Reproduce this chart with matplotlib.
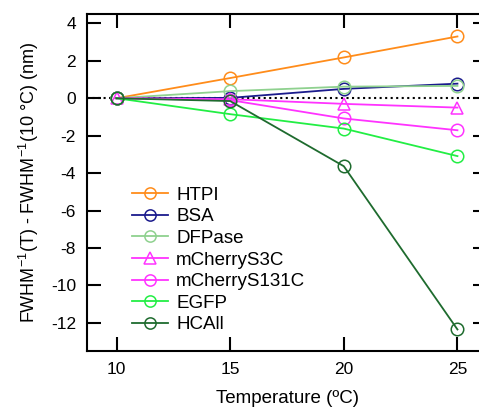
import matplotlib
matplotlib.use('Agg')
import matplotlib.pyplot as plt

plt.rcParams['font.family'] = ['Liberation Sans', 'DejaVu Sans']
plt.rcParams['mathtext.default'] = 'regular'
plt.rcParams['axes.unicode_minus'] = False

temps = [10, 15, 20, 25]
names = ['HTPI', 'BSA', 'DFPase', 'mCherryS3C', 'mCherryS131C', 'EGFP', 'HCAll']
values = {
    'HTPI': [0, 1.08, 2.18, 3.3],
    'BSA': [0, 0.02, 0.5, 0.78],
    'DFPase': [0, 0.38, 0.62, 0.66],
    'mCherryS3C': [0, -0.05, -0.3, -0.5],
    'mCherryS131C': [0, -0.1, -1.08, -1.71],
    'EGFP': [0, -0.85, -1.62, -3.09],
    'HCAll': [0, -0.15, -3.63, -12.35],
}
colors = ['#ff8c1a', '#1a1a8c', '#8fd18f', '#ff33ff', '#ff33ff', '#22ee44', '#1e6b2e']
markers = ['o', 'o', 'o', '^', 'o', 'o', 'o']

fig = plt.figure(figsize=(4.79, 4.09), dpi=100)
ax = fig.add_axes([87 / 479, 58 / 409, 400 / 479, 337 / 409])

ax.axhline(0, color='k', ls=':', lw=1.5, zorder=1)
for name, c, m in zip(names, colors, markers):
    ax.plot(temps, values[name], color=c, marker=m, markersize=9, mfc='none',
            mec=c, mew=1.1, lw=1.3, label=name, zorder=2)

ax.set_xlim(8.7, 26.3)
ax.set_ylim(-13.5, 4.5)
ax.set_xticks([10, 15, 20, 25])
ax.set_yticks(range(-12, 5, 2))
ax.tick_params(direction='in', length=10, width=1.5, labelsize=12.5,
               top=True, right=True, pad=8)
for s in ax.spines.values():
    s.set_linewidth(1.5)

ax.set_xlabel('Temperature (ºC)', fontsize=13.5, labelpad=9)
ax.set_ylabel('FWHM$^{-1}$(T) - FWHM$^{-1}$(10 °C) (nm)', fontsize=13, labelpad=7)

ax.legend(loc='center left', bbox_to_anchor=(0.113, 0.27), frameon=False,
          fontsize=13.5, handlelength=1.9, handletextpad=0.45, markerscale=0.9,
          labelspacing=0.24, borderpad=0, borderaxespad=0)

fig.savefig('out.png', dpi=100)
